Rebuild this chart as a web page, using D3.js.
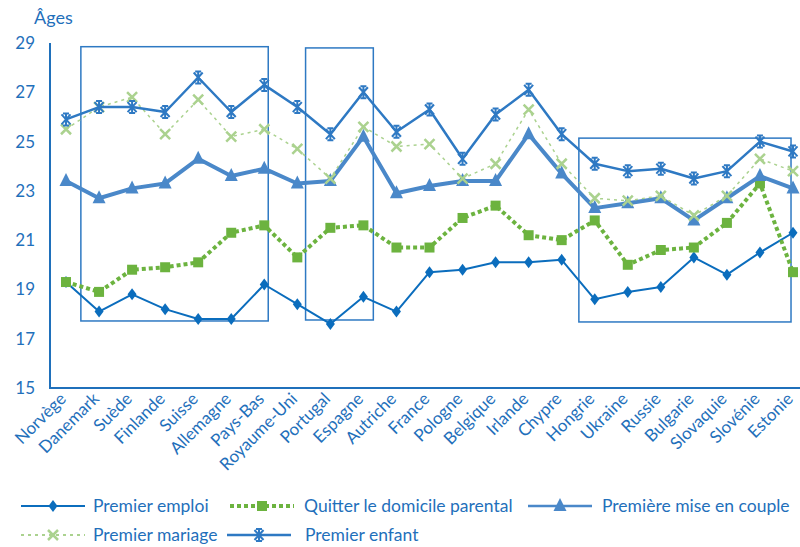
<!DOCTYPE html>
<html>
<head>
<meta charset="utf-8">
<script src="https://cdn.jsdelivr.net/npm/d3@7"></script>
<style>
  body { margin: 0; background: #fff; }
  text { font-family: Lato, "Open Sans", sans-serif; fill: #1f70bb; }
</style>
</head>
<body>
<svg id="chart"></svg>
<script>
// DATA

const countries = ["Norvège", "Danemark", "Suède", "Finlande", "Suisse", "Allemagne",
  "Pays-Bas", "Royaume-Uni", "Portugal", "Espagne", "Autriche", "France", "Pologne",
  "Belgique", "Irlande", "Chypre", "Hongrie", "Ukraine", "Russie", "Bulgarie",
  "Slovaquie", "Slovénie", "Estonie"];

const premierEmploi = [19.3, 18.1, 18.8, 18.2, 17.8, 17.8, 19.2, 18.4, 17.6, 18.7, 18.1,
  19.7, 19.8, 20.1, 20.1, 20.2, 18.6, 18.9, 19.1, 20.3, 19.6, 20.5, 21.3];

const quitterDomicile = [19.3, 18.9, 19.8, 19.9, 20.1, 21.3, 21.6, 20.3, 21.5, 21.6, 20.7,
  20.7, 21.9, 22.4, 21.2, 21.0, 21.8, 20.0, 20.6, 20.7, 21.7, 23.3, 19.7];

const miseEnCouple = [23.4, 22.7, 23.1, 23.3, 24.3, 23.6, 23.9, 23.3, 23.4, 25.2, 22.9,
  23.2, 23.4, 23.4, 25.3, 23.7, 22.3, 22.5, 22.7, 21.8, 22.7, 23.6, 23.1];

const premierMariage = [25.5, 26.4, 26.8, 25.3, 26.7, 25.2, 25.5, 24.7, 23.5, 25.6, 24.8,
  24.9, 23.5, 24.1, 26.3, 24.1, 22.7, 22.6, 22.8, 22.0, 22.8, 24.3, 23.8];

const premierEnfant = [25.9, 26.4, 26.4, 26.2, 27.6, 26.2, 27.3, 26.4, 25.3, 27.0, 25.4,
  26.3, 24.3, 26.1, 27.1, 25.3, 24.1, 23.8, 23.9, 23.5, 23.8, 25.0, 24.6];

const yTicks = [15, 17, 19, 21, 23, 25, 27, 29];

// highlight boxes: country index range (fractional) and age range
const boxes = [
  { from: 0.45, to: 6.12, top: 28.85, bottom: 17.72 },
  { from: 7.25, to: 9.3, top: 28.8, bottom: 17.76 },
  { from: 15.52, to: 21.94, top: 25.14, bottom: 17.68 }
];

// SERIES STYLES

const series = [
  { name: "Premier emploi", values: premierEmploi, color: "#0b6dbd", width: 2, legendWidth: 2, dash: null, marker: "diamond" },
  { name: "Quitter le domicile parental", values: quitterDomicile, color: "#6cb33f", width: 4, legendWidth: 4, dash: "4,3", marker: "square" },
  { name: "Première mise en couple", values: miseEnCouple, color: "#4a88c9", width: 4, legendWidth: 2.5, dash: null, marker: "triangle" },
  { name: "Premier mariage", values: premierMariage, color: "#abd28f", width: 1.5, legendWidth: 2, dash: "3,4", marker: "x" },
  { name: "Premier enfant", values: premierEnfant, color: "#2e79c3", width: 2.5, legendWidth: 2.5, dash: null, marker: "star" }
];

const width = 800;
const height = 547;

const svg = d3.select("#chart")
  .attr("width", width)
  .attr("height", height);

const x = d3.scalePoint()
  .domain(countries)
  .range([66, 793]);

const xi = d3.scaleLinear()
  .domain([0, countries.length - 1])
  .range([66, 793]);

const y = d3.scaleLinear()
  .domain([15, 29])
  .range([388, 43]);

const axisColor = "#1f70bb";

// AXES

svg.append("line")
  .attr("x1", 50).attr("x2", 50)
  .attr("y1", y(29)).attr("y2", y(15))
  .attr("stroke", axisColor)
  .attr("stroke-width", 2);

svg.append("line")
  .attr("x1", 49).attr("x2", 800)
  .attr("y1", y(15)).attr("y2", y(15))
  .attr("stroke", axisColor)
  .attr("stroke-width", 2);

svg.append("g")
  .selectAll("text")
  .data(yTicks)
  .enter()
  .append("text")
  .attr("x", 35)
  .attr("y", d => y(d))
  .attr("dy", "0.35em")
  .attr("text-anchor", "end")
  .attr("font-size", "17px")
  .text(d => d);

svg.append("text")
  .attr("x", 34)
  .attr("y", 24)
  .attr("font-size", "18px")
  .text("Âges");

svg.append("g")
  .selectAll("text")
  .data(countries)
  .enter()
  .append("text")
  .attr("transform", d => `translate(${x(d) + 1},${400}) rotate(-45)`)
  .attr("text-anchor", "end")
  .attr("font-size", "17px")
  .text(d => d);

// BOXES

svg.append("g")
  .selectAll("rect")
  .data(boxes)
  .enter()
  .append("rect")
  .attr("x", d => xi(d.from))
  .attr("y", d => y(d.top))
  .attr("width", d => xi(d.to) - xi(d.from))
  .attr("height", d => y(d.bottom) - y(d.top))
  .attr("fill", "none")
  .attr("stroke", "#2e79c3")
  .attr("stroke-width", 1.5);

// MARKERS

function drawMarker(g, type, color, cx, cy) {
  if (type === "diamond") {
    g.append("path")
      .attr("d", "M0,-6L4.5,0L0,6L-4.5,0Z")
      .attr("transform", `translate(${cx},${cy})`)
      .attr("fill", color);
  } else if (type === "square") {
    g.append("rect")
      .attr("x", cx - 5).attr("y", cy - 5)
      .attr("width", 10).attr("height", 10)
      .attr("fill", color);
  } else if (type === "triangle") {
    g.append("path")
      .attr("d", "M0,-8L6.5,5L-6.5,5Z")
      .attr("transform", `translate(${cx},${cy})`)
      .attr("fill", color);
  } else if (type === "x") {
    g.append("path")
      .attr("d", "M-5,-5L5,5M5,-5L-5,5")
      .attr("transform", `translate(${cx},${cy})`)
      .attr("stroke", color)
      .attr("stroke-width", 2.5)
      .attr("fill", "none");
  } else if (type === "star") {
    g.append("path")
      .attr("d", "M-4.5,-5L4.5,5M4.5,-5L-4.5,5M0,-6L0,6M-3,-6L3,-6M-3,6L3,6")
      .attr("transform", `translate(${cx},${cy})`)
      .attr("stroke", color)
      .attr("stroke-width", 2)
      .attr("fill", "none");
  }
}

// LINES

const line = d3.line()
  .x((d, i) => x(countries[i]))
  .y(d => y(d));

series.forEach(s => {
  const g = svg.append("g");

  g.append("path")
    .datum(s.values)
    .attr("d", line)
    .attr("fill", "none")
    .attr("stroke", s.color)
    .attr("stroke-width", s.width)
    .attr("stroke-dasharray", s.dash)
    .attr("stroke-linejoin", "round");

  s.values.forEach((v, i) => {
    drawMarker(g, s.marker, s.color, x(countries[i]), y(v));
  });
});

// LEGEND

const legendItems = [
  { s: series[0], x: 21, y: 506, tx: 93 },
  { s: series[1], x: 230, y: 506, tx: 304 },
  { s: series[2], x: 528, y: 506, tx: 602 },
  { s: series[3], x: 21, y: 535, tx: 93 },
  { s: series[4], x: 227, y: 535, tx: 305 }
];

legendItems.forEach(item => {
  const g = svg.append("g");
  const s = item.s;

  g.append("line")
    .attr("x1", item.x).attr("x2", item.x + 64)
    .attr("y1", item.y).attr("y2", item.y)
    .attr("stroke", s.color)
    .attr("stroke-width", s.legendWidth)
    .attr("stroke-dasharray", s.dash);

  drawMarker(g, s.marker, s.color, item.x + 32, item.y);

  g.append("text")
    .attr("x", item.tx)
    .attr("y", item.y)
    .attr("dy", "0.35em")
    .attr("font-size", "17.5px")
    .text(s.name);
});
</script>
</body>
</html>
